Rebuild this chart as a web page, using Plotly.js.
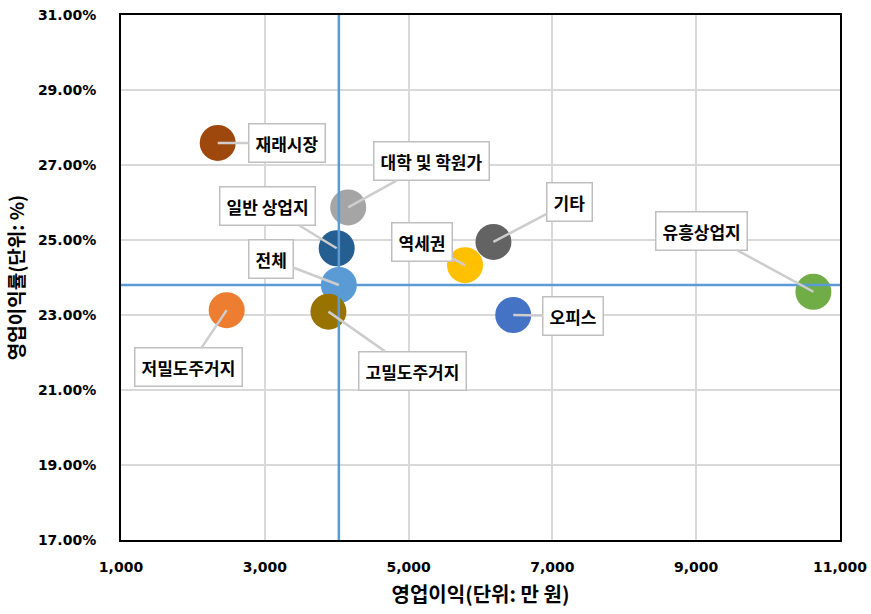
<!DOCTYPE html>
<html>
<head>
<meta charset="utf-8">
<script src="https://cdn.plot.ly/plotly-3.0.1.min.js"></script>
<style>
  html, body { margin: 0; padding: 0; background: #ffffff; }
  #chart { width: 871px; height: 614px; }
</style>
</head>
<body>
<div id="chart"></div>
<script>
// 상권 유형별 영업이익(만 원)과 영업이익률(%)
const categories = ['재래시장', '대학 및 학원가', '일반 상업지', '전체', '역세권', '기타', '유흥상업지', '오피스', '저밀도주거지', '고밀도주거지'];
const profit     = [2345, 4160, 4000, 4030, 5785, 6180, 10630, 6455, 2470, 3885];
const margin     = [27.59, 25.87, 24.78, 23.80, 24.33, 24.95, 23.62, 23.00, 23.13, 23.09];
const colors     = ['#9E480E', '#A5A5A5', '#255E91', '#5B9BD5', '#FFC000', '#636363', '#70AD47', '#4472C4', '#ED7D31', '#997300'];

// 전체 평균 기준선
const avgIndex = categories.indexOf('전체');
const avgProfit = profit[avgIndex];
const avgMargin = margin[avgIndex];

// 축 범위와 눈금
const xRange = [1000, 11000];
const yRange = [17, 31];
const xTicks = [1000, 3000, 5000, 7000, 9000, 11000];
const xTickText = ['1,000', '3,000', '5,000', '7,000', '9,000', '11,000'];
const yTicks = [17, 19, 21, 23, 25, 27, 29, 31];
const yTickText = ['17.00%', '19.00%', '21.00%', '23.00%', '25.00%', '27.00%', '29.00%', '31.00%'];

// 말풍선 위치(점 기준 픽셀 오프셋)
const labelOffsets = [
  [69, 0], [83, -46], [-69, -42], [-68, -26], [-43, -23],
  [76, -40], [-112, -61], [60, 1], [-38, 57], [84, 59]
];

const font = 'DejaVu Sans, sans-serif';
const krFont = '"Noto Sans CJK KR", "Noto Sans", sans-serif';

const trace = {
  type: 'scatter',
  mode: 'markers',
  x: profit,
  y: margin,
  text: categories,
  marker: { size: 36, color: colors, line: { width: 0 }, opacity: 1 },
  hoverinfo: 'text',
  showlegend: false
};

const annotations = categories.map((c, i) => ({
  x: profit[i], y: margin[i], xref: 'x', yref: 'y',
  text: '<b>' + c + '</b>',
  showarrow: true, arrowhead: 0, arrowwidth: 2.5, arrowcolor: '#CDCDCD',
  standoff: 0, startstandoff: 0,
  ax: labelOffsets[i][0], ay: labelOffsets[i][1],
  bgcolor: '#ffffff', bordercolor: '#BFBFBF', borderwidth: 1.5, borderpad: 6,
  font: { family: krFont, size: 17, color: '#000000' }
}));

const layout = {
  width: 871, height: 614,
  margin: { l: 121, r: 31, t: 15, b: 74 },
  paper_bgcolor: '#ffffff', plot_bgcolor: '#ffffff',
  xaxis: {
    range: xRange, tickvals: xTicks, ticktext: xTickText,
    showgrid: true, gridcolor: '#D9D9D9', gridwidth: 2,
    zeroline: false, showline: true, linecolor: '#000000', linewidth: 2, mirror: true,
    ticks: '', ticklabelstandoff: 13,
    tickfont: { family: font, size: 14, color: '#000000', weight: 'bold' },
    title: { text: '<b>영업이익(단위: 만 원)</b>', standoff: 14,
             font: { family: krFont, size: 20, color: '#000000' } }
  },
  yaxis: {
    range: yRange, tickvals: yTicks, ticktext: yTickText,
    showgrid: true, gridcolor: '#D9D9D9', gridwidth: 2,
    zeroline: false, showline: true, linecolor: '#000000', linewidth: 2, mirror: true,
    ticks: '', ticklabelstandoff: 20,
    tickfont: { family: font, size: 14, color: '#000000', weight: 'bold' },
    title: { text: '<b>영업이익률(단위: %)</b>', standoff: 8,
             font: { family: krFont, size: 19, color: '#000000' } }
  },
  shapes: [
    { type: 'line', xref: 'x', yref: 'y', x0: avgProfit, x1: avgProfit, y0: yRange[0], y1: yRange[1],
      line: { color: '#5B9BD5', width: 2.5 }, layer: 'above' },
    { type: 'line', xref: 'x', yref: 'y', x0: xRange[0], x1: xRange[1], y0: avgMargin, y1: avgMargin,
      line: { color: '#5B9BD5', width: 2.5 }, layer: 'above' }
  ],
  annotations: annotations
};

Plotly.newPlot('chart', [trace], layout, { displayModeBar: false, staticPlot: true });
</script>
</body>
</html>
